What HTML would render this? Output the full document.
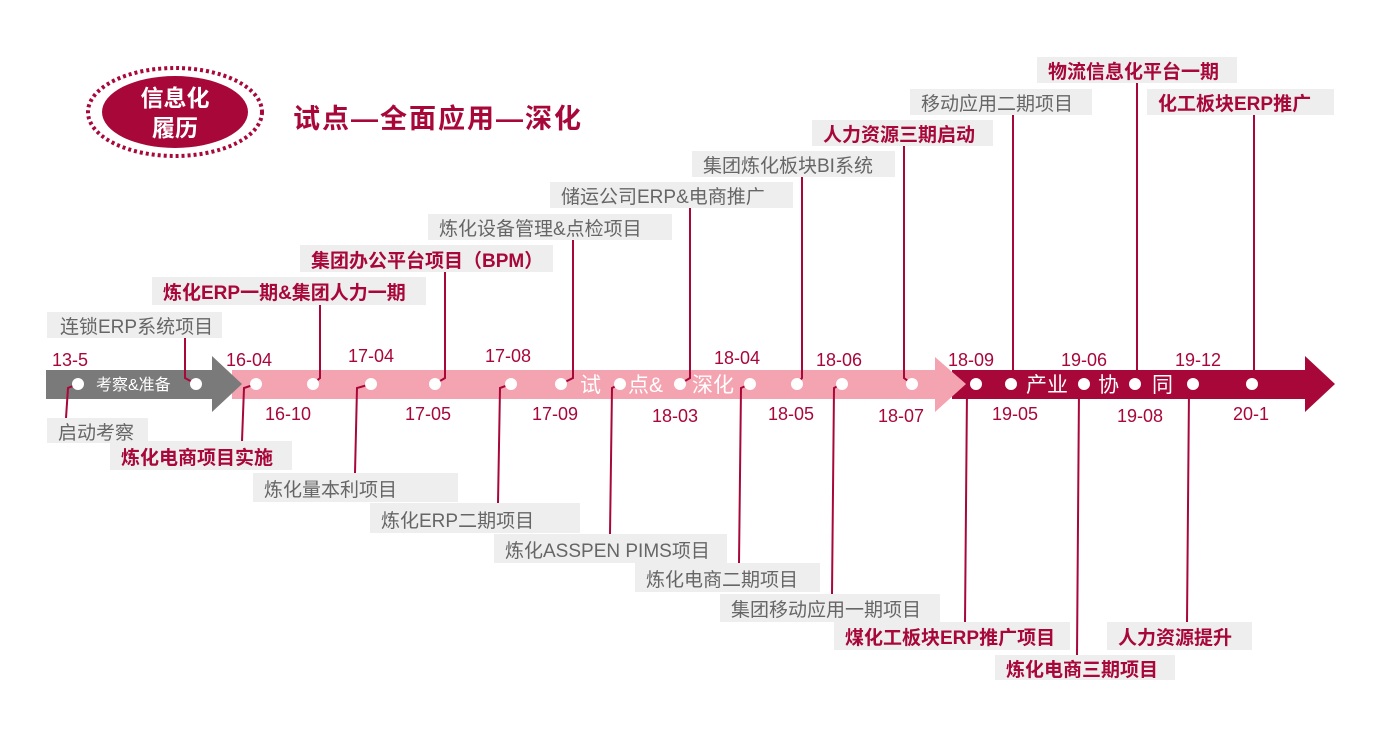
<!DOCTYPE html>
<html><head><meta charset="utf-8"><style>
html,body{margin:0;padding:0;background:#fff;}
svg text{font-family:"Liberation Sans","Noto Sans CJK SC",sans-serif;}
</style></head><body>
<svg width="1381" height="743" viewBox="0 0 1381 743" xmlns="http://www.w3.org/2000/svg">
<ellipse cx="175" cy="112" rx="87" ry="44" fill="none" stroke="#a8073a" stroke-width="4" stroke-dasharray="3 3"/>
<ellipse cx="175" cy="112" rx="73" ry="36" fill="#a8073a"/>
<text x="175" y="106" fill="#fff" font-size="23" font-weight="bold" text-anchor="middle">信息化</text>
<text x="175" y="136" fill="#fff" font-size="23" font-weight="bold" text-anchor="middle">履历</text>
<text x="293" y="128" fill="#a8073a" font-size="27" font-weight="bold" letter-spacing="2">试点—全面应用—深化</text>

<polygon points="952,370 1305,370 1305,356 1335,384 1305,412 1305,399 952,399" fill="#a8073a"/>
<polygon points="232,370 935,370 935,357 966,384 935,412 935,399 232,399" fill="#f4a3b0"/>
<polygon points="46,370 212,370 212,356 242,384 212,412 212,399 46,399" fill="#7a7a7a"/>

<g fill="#fff" font-size="16"><text x="96" y="390">考察&amp;准备</text></g>
<g fill="#fff" font-size="21"><text x="580" y="392">试</text><text x="628" y="392">点&amp;</text><text x="692" y="392">深化</text>
<text x="1026" y="392">产业</text><text x="1098" y="392">协</text><text x="1152" y="392">同</text></g>

<g fill="none" stroke="#a8073a" stroke-width="2">
<polyline points="185,338 185,378 196,384"/>
<polyline points="320,305 320,378 313,384"/>
<polyline points="445,272 445,378 435,384"/>
<polyline points="573,240 573,378 561,384"/>
<polyline points="690,208 690,378 680,384"/>
<polyline points="802,177 802,378 797,384"/>
<polyline points="904,146 904,378 912,384"/>
<polyline points="1013,115 1013,378 1011,384"/>
<polyline points="1137,83 1137,378 1135,384"/>
<polyline points="1254,115 1254,378 1252,384"/>
<polyline points="78,384 68,388 66,418"/>
<polyline points="256,384 244,388 242,441"/>
<polyline points="371,384 357,388 355,473"/>
<polyline points="511,384 500,388 498,503"/>
<polyline points="620,384 612,388 610,534"/>
<polyline points="750,384 741,388 739,563"/>
<polyline points="842,384 834,388 832,594"/>
<polyline points="976,384 967,390 965,622"/>
<polyline points="1084,384 1079,390 1077,655"/>
<polyline points="1193,384 1189,390 1187,622"/>
</g>

<g fill="#fff">
<circle cx="78" cy="384" r="6"/><circle cx="196" cy="384" r="6"/><circle cx="256" cy="384" r="6"/><circle cx="313" cy="384" r="6"/><circle cx="371" cy="384" r="6"/><circle cx="435" cy="384" r="6"/><circle cx="511" cy="384" r="6"/><circle cx="561" cy="384" r="6"/><circle cx="620" cy="384" r="6"/><circle cx="680" cy="384" r="6"/><circle cx="750" cy="384" r="6"/><circle cx="797" cy="384" r="6"/><circle cx="842" cy="384" r="6"/><circle cx="912" cy="384" r="6"/><circle cx="976" cy="384" r="6"/><circle cx="1011" cy="384" r="6"/><circle cx="1084" cy="384" r="6"/><circle cx="1135" cy="384" r="6"/><circle cx="1193" cy="384" r="6"/><circle cx="1252" cy="384" r="6"/>
</g>

<g fill="#a8073a" font-size="18">
<text x="52" y="366">13-5</text><text x="226" y="366">16-04</text><text x="348" y="362">17-04</text><text x="485" y="362">17-08</text><text x="714" y="364">18-04</text><text x="816" y="366">18-06</text><text x="948" y="366">18-09</text><text x="1061" y="366">19-06</text><text x="1175" y="366">19-12</text>
<text x="265" y="420">16-10</text><text x="405" y="420">17-05</text><text x="532" y="420">17-09</text><text x="652" y="422">18-03</text><text x="768" y="420">18-05</text><text x="878" y="422">18-07</text><text x="992" y="420">19-05</text><text x="1117" y="422">19-08</text><text x="1233" y="420">20-1</text>
</g>

<g fill="#eeeeee">
<rect x="47" y="312" width="175" height="26"/><rect x="152" y="277" width="274" height="28"/><rect x="300" y="245" width="253" height="27"/><rect x="428" y="214" width="244" height="26"/><rect x="550" y="182" width="243" height="26"/><rect x="692" y="151" width="203" height="26"/><rect x="812" y="120" width="181" height="26"/><rect x="910" y="89" width="182" height="26"/><rect x="1037" y="57" width="200" height="26"/><rect x="1147" y="89" width="187" height="26"/>
<rect x="47" y="418" width="101" height="25"/><rect x="110" y="441" width="182" height="29"/><rect x="253" y="473" width="205" height="29"/><rect x="370" y="503" width="210" height="30"/><rect x="494" y="534" width="233" height="29"/><rect x="635" y="563" width="185" height="29"/><rect x="720" y="594" width="220" height="28"/><rect x="834" y="622" width="236" height="28"/><rect x="995" y="655" width="180" height="25"/><rect x="1107" y="622" width="145" height="28"/>
</g>
<g font-size="19">
<text x="60" y="333" fill="#666">连锁ERP系统项目</text>
<text x="163" y="299" fill="#a8073a" font-weight="bold">炼化ERP一期&amp;集团人力一期</text>
<text x="311" y="267" fill="#a8073a" font-weight="bold">集团办公平台项目（BPM）</text>
<text x="439" y="235" fill="#666">炼化设备管理&amp;点检项目</text>
<text x="561" y="203" fill="#666">储运公司ERP&amp;电商推广</text>
<text x="703" y="172" fill="#666">集团炼化板块BI系统</text>
<text x="823" y="141" fill="#a8073a" font-weight="bold">人力资源三期启动</text>
<text x="921" y="110" fill="#666">移动应用二期项目</text>
<text x="1048" y="78" fill="#a8073a" font-weight="bold">物流信息化平台一期</text>
<text x="1158" y="110" fill="#a8073a" font-weight="bold">化工板块ERP推广</text>
<text x="58" y="439" fill="#666">启动考察</text>
<text x="121" y="464" fill="#a8073a" font-weight="bold">炼化电商项目实施</text>
<text x="264" y="496" fill="#666">炼化量本利项目</text>
<text x="381" y="527" fill="#666">炼化ERP二期项目</text>
<text x="505" y="557" fill="#666">炼化ASSPEN PIMS项目</text>
<text x="646" y="586" fill="#666">炼化电商二期项目</text>
<text x="731" y="616" fill="#666">集团移动应用一期项目</text>
<text x="845" y="644" fill="#a8073a" font-weight="bold">煤化工板块ERP推广项目</text>
<text x="1006" y="676" fill="#a8073a" font-weight="bold">炼化电商三期项目</text>
<text x="1118" y="644" fill="#a8073a" font-weight="bold">人力资源提升</text>
</g>
</svg>
</body></html>
